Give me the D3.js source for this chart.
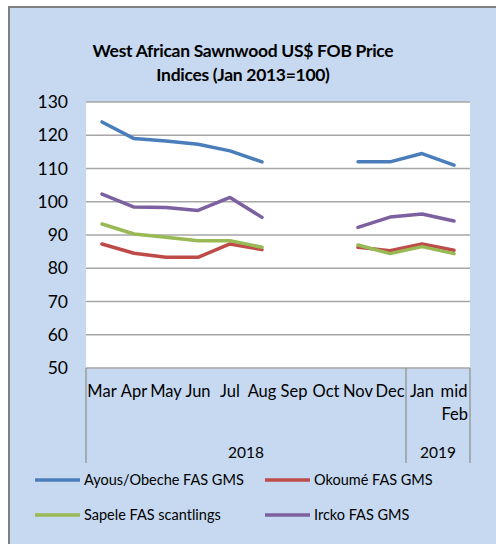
<!DOCTYPE html>
<html>
<head>
  <script src="https://cdn.jsdelivr.net/npm/d3@7"></script>
  <style>
    body { margin: 0; background: #fff; }
    svg { font-family: Lato, "Open Sans", sans-serif; }
  </style>
</head>
<body>
  <svg width="496" height="544"></svg>
<script>
  const months = ['Mar', 'Apr', 'May', 'Jun', 'Jul', 'Aug', 'Sep', 'Oct', 'Nov', 'Dec', 'Jan', 'mid Feb'];
  const years = [
    { label: '2018', from: 'Mar', to: 'Dec' },
    { label: '2019', from: 'Jan', to: 'mid Feb' }
  ];
  const yTicks = [50, 60, 70, 80, 90, 100, 110, 120, 130];

  const ayous = [124, 119, 118.3, 117.3, 115.3, 112, null, null, 112, 112, 114.5, 111];
  const okoume = [87.3, 84.5, 83.3, 83.3, 87.3, 85.6, null, null, 86.3, 85.3, 87.3, 85.4];
  const sapele = [93.3, 90.3, 89.3, 88.3, 88.3, 86.3, null, null, 87, 84.4, 86.5, 84.4];
  const irocko = [102.3, 98.4, 98.3, 97.4, 101.3, 95.3, null, null, 92.3, 95.4, 96.3, 94.2];

  const series = [
    { name: 'Ayous/Obeche  FAS GMS', values: ayous, color: '#4a7ebb' },
    { name: 'Okoumé  FAS GMS', values: okoume, color: '#be4b48' },
    { name: 'Sapele FAS scantlings', values: sapele, color: '#98b954' },
    { name: 'Ircko FAS GMS', values: irocko, color: '#7d60a0' }
  ];

  const svg = d3.select('svg');

  // outer chart area
  svg.append('rect')
    .attr('x', 9).attr('y', 7)
    .attr('width', 500).attr('height', 560)
    .attr('fill', '#c6d9f1')
    .attr('stroke', '#7f7f7f')
    .attr('stroke-width', 2);

  svg.append('text')
    .attr('x', 243).attr('y', 57)
    .attr('text-anchor', 'middle')
    .style('font-size', '17.5px').style('font-weight', 'bold')
    .style('letter-spacing', '-0.3px')
    .text('West African Sawnwood US$ FOB Price');
  svg.append('text')
    .attr('x', 243).attr('y', 81)
    .attr('text-anchor', 'middle')
    .style('font-size', '17.5px').style('font-weight', 'bold')
    .style('letter-spacing', '-0.3px')
    .text('Indices (Jan 2013=100)');

  const plotLeft = 86, plotRight = 470, plotTop = 102, plotBottom = 368;

  const x = d3.scaleBand().domain(months).range([plotLeft, plotRight]);
  const y = d3.scaleLinear().domain([50, 130]).range([plotBottom, plotTop]);

  svg.append('rect')
    .attr('x', plotLeft).attr('y', plotTop)
    .attr('width', plotRight - plotLeft).attr('height', plotBottom - plotTop)
    .attr('fill', '#fff');

  // gridlines
  svg.append('g')
    .selectAll('line')
    .data(yTicks)
    .join('line')
    .attr('x1', plotLeft).attr('x2', plotRight)
    .attr('y1', d => y(d)).attr('y2', d => y(d))
    .attr('stroke', '#a6a6a6')
    .attr('stroke-width', 1.5);

  // y axis labels
  const yAxis = svg.append('g')
    .attr('transform', `translate(${plotLeft - 18},0)`)
    .call(d3.axisLeft(y).tickValues(yTicks).tickSize(0).tickPadding(0));
  yAxis.select('.domain').remove();
  yAxis.selectAll('text')
    .attr('fill', '#000')
    .style('font-size', '17.5px')
    .style('font-family', 'Lato, sans-serif');

  // category axis
  const xAxis = svg.append('g')
    .attr('transform', `translate(0,${plotBottom})`)
    .call(d3.axisBottom(x).tickSize(0).tickPadding(0));
  xAxis.select('.domain').remove();
  xAxis.selectAll('text')
    .attr('fill', '#000')
    .style('font-size', '16.5px')
    .style('font-family', 'Lato, sans-serif')
    .attr('y', 0)
    .attr('dy', null)
    .each(function (d) {
      const t = d3.select(this);
      const words = d.split(' ');
      t.text(null);
      words.forEach((w, i) => {
        t.append('tspan')
          .attr('x', 0)
          .attr('y', 29 + i * 23)
          .attr('text-anchor', i > 0 ? 'end' : 'middle')
          .attr('dx', i > 0 ? x.bandwidth() / 2 - 2 : 0)
          .text(w);
      });
    });

  // year separators and labels
  const sepX = [plotLeft, x('Jan'), plotRight];
  svg.append('g')
    .selectAll('line')
    .data(sepX)
    .join('line')
    .attr('x1', d => d).attr('x2', d => d)
    .attr('y1', plotBottom).attr('y2', 463)
    .attr('stroke', '#8c8c8c')
    .attr('stroke-width', 1.2);

  svg.append('g')
    .selectAll('text')
    .data(years)
    .join('text')
    .attr('x', d => (x(d.from) + x(d.to) + x.bandwidth()) / 2)
    .attr('y', 458)
    .attr('text-anchor', 'middle')
    .style('font-size', '15.5px')
    .text(d => d.label);

  // lines
  const line = d3.line()
    .defined(d => d != null)
    .x((d, i) => x(months[i]) + x.bandwidth() / 2)
    .y(d => y(d));

  svg.append('g')
    .selectAll('path')
    .data(series)
    .join('path')
    .attr('d', d => line(d.values))
    .attr('fill', 'none')
    .attr('stroke', d => d.color)
    .attr('stroke-width', 3.5)
    .attr('stroke-linejoin', 'round')
    .attr('stroke-linecap', 'round');

  // legend
  const legend = svg.append('g')
    .selectAll('g')
    .data(series)
    .join('g')
    .attr('transform', (d, i) => `translate(${i % 2 ? 265 : 35},${i < 2 ? 480 : 515})`);
  legend.append('line')
    .attr('x1', 0).attr('x2', 45)
    .attr('stroke', d => d.color)
    .attr('stroke-width', 3.5);
  legend.append('text')
    .attr('x', 49)
    .attr('dy', '0.35em')
    .style('font-size', '14.5px')
    .text(d => d.name);
</script>
</body>
</html>
